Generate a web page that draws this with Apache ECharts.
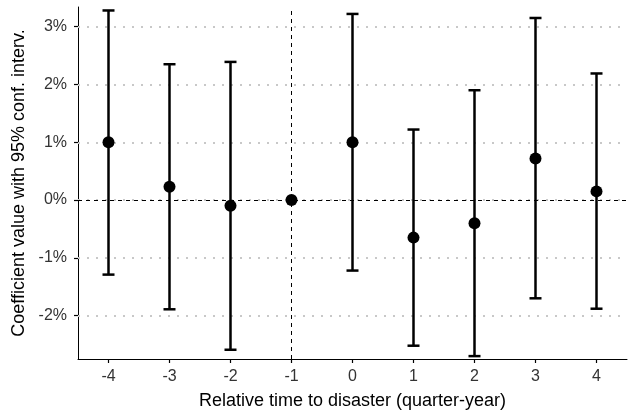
<!DOCTYPE html>
<html>
<head>
<meta charset="utf-8">
<script src="https://cdn.jsdelivr.net/npm/echarts@6/dist/echarts.min.js"></script>
<style>html,body{margin:0;padding:0;background:#fff}#c{width:631px;height:417px}</style>
</head>
<body>
<div id="c"></div>
<script>
var categories = ['-4','-3','-2','-1','0','1','2','3','4'];
var estimates = [1.0, 0.23, -0.1, 0, 1.0, -0.65, -0.4, 0.72, 0.15];
var lower = [-1.29, -1.89, -2.59, null, -1.22, -2.52, -2.70, -1.70, -1.88];
var upper = [3.28, 2.35, 2.39, null, 3.22, 1.22, 1.90, 3.15, 2.19];
var yTicks = [-2, -1, 0, 1, 2, 3];

var chart = echarts.init(document.getElementById('c'), null, {renderer: 'canvas'});
var font = '"Liberation Sans", Arial, sans-serif';

var errData = [];
for (var i = 0; i < categories.length; i++) {
  if (lower[i] !== null) errData.push([i, lower[i], upper[i]]);
}
var ptData = categories.map(function (c, i) { return [i, estimates[i]]; });

var gridLines = yTicks.map(function (v) { return {yAxis: v}; });

chart.setOption({
  animation: false,
  backgroundColor: '#fff',
  grid: {left: 78, right: 4, top: 7, bottom: 58, containLabel: false},
  xAxis: {
    type: 'category',
    data: categories,
    boundaryGap: true,
    name: 'Relative time to disaster (quarter-year)',
    nameLocation: 'middle',
    nameGap: 33,
    nameTextStyle: {fontFamily: font, fontSize: 18, color: '#000'},
    axisLine: {show: true, onZero: false, lineStyle: {color: '#000', width: 1}},
    axisTick: {show: true, alignWithLabel: true, length: 4, lineStyle: {color: '#000', width: 1.2}},
    axisLabel: {fontFamily: font, fontSize: 16, color: '#333', margin: 10},
    splitLine: {show: false}
  },
  yAxis: {
    type: 'value',
    min: -2.75,
    max: 3.34,
    name: 'Coefficient value with 95% conf. interv.',
    nameLocation: 'middle',
    nameGap: 39,
    nameTextStyle: {fontFamily: font, fontSize: 18, color: '#000'},
    axisLine: {show: true, onZero: false, lineStyle: {color: '#000', width: 1}},
    axisTick: {show: true, length: 4, customValues: yTicks, lineStyle: {color: '#000', width: 1.2}},
    axisLabel: {fontFamily: font, fontSize: 16, color: '#333', margin: 11, customValues: yTicks,
      formatter: function (v) { return v + '%'; }},
    splitLine: {show: false}
  },
  series: [
    {
      type: 'line',
      data: [],
      silent: true,
      z: 1,
      markLine: {
        silent: true,
        z: 1,
        symbol: 'none',
        label: {show: false},
        lineStyle: {color: '#c8c8c8', width: 2, type: [2, 7]},
        emphasis: {disabled: true},
        data: gridLines
      }
    },
    {
      type: 'line',
      data: [],
      silent: true,
      z: 2,
      markLine: {
        silent: true,
        z: 2,
        symbol: 'none',
        label: {show: false},
        lineStyle: {color: '#000', width: 1, type: [4, 4]},
        emphasis: {disabled: true},
        data: [{yAxis: 0}, {xAxis: '-1'}]
      }
    },
    {
      type: 'custom',
      data: errData,
      encode: {x: 0, y: [1, 2]},
      renderItem: function (params, api) {
        var x = api.value(0);
        var lo = api.coord([x, api.value(1)]);
        var hi = api.coord([x, api.value(2)]);
        var hw = 6;
        var st = {stroke: '#000', lineWidth: 2.5};
        return {
          type: 'group',
          children: [
            {type: 'line', shape: {x1: lo[0], y1: lo[1], x2: hi[0], y2: hi[1]}, style: st},
            {type: 'line', shape: {x1: lo[0] - hw, y1: lo[1], x2: lo[0] + hw, y2: lo[1]}, style: st},
            {type: 'line', shape: {x1: hi[0] - hw, y1: hi[1], x2: hi[0] + hw, y2: hi[1]}, style: st}
          ]
        };
      },
      z: 10
    },
    {
      type: 'scatter',
      data: ptData,
      symbol: 'circle',
      symbolSize: 12,
      itemStyle: {color: '#000', opacity: 1},
      z: 11
    }
  ]
});
</script>
</body>
</html>
